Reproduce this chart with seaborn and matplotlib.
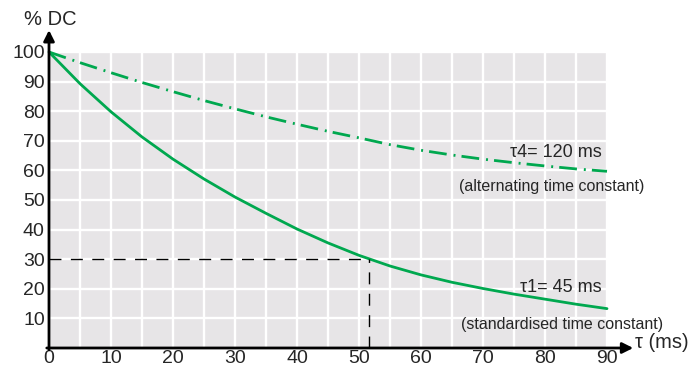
import pandas as pd
import numpy as np
import matplotlib.pyplot as plt
import seaborn as sns

# time axis (ms) and the two decay curves (% DC)
t_ms = [0, 5, 10, 15, 20, 25, 30, 35, 40, 45, 50, 55, 60, 65, 70, 75, 80, 85, 90]
tau1_dc = [100, 89.3, 79.8, 71.3, 63.8, 57.1, 51, 45.5, 40.2, 35.5, 31.3, 27.7, 24.7, 22.2, 20.1, 18.2, 16.5, 14.8, 13.3]
tau4_dc = [100, 96.4, 93, 89.7, 86.6, 83.6, 80.8, 78.1, 75.6, 73.2, 71, 68.7, 66.8, 65.2, 63.8, 62.6, 61.5, 60.5, 59.7]

# 30 % reference point
ref_dc = 30
ref_t = 51.6

x_ticks = [0, 10, 20, 30, 40, 50, 60, 70, 80, 90]
y_ticks = [10, 20, 30, 40, 50, 60, 70, 80, 90, 100]

df = pd.DataFrame({'t': t_ms, 'tau1': tau1_dc, 'tau4': tau4_dc})

sns.set_theme(style='white')
plt.rcParams['font.family'] = ['Liberation Sans', 'DejaVu Sans']

green = '#00a84f'
grey_bg = '#e7e5e7'

fig = plt.figure(figsize=(6.96, 3.67), dpi=100)
ax = fig.add_axes([49/696, 19/367, 558/696, 296/367])
ax.set_facecolor(grey_bg)

# grid: white, every 5 ms and every 10 %
ax.set_xticks(x_ticks)
ax.set_xticks(np.arange(5, 90, 10), minor=True)
ax.set_yticks(y_ticks)
ax.grid(which='both', color='white', linewidth=1.7)
ax.set_axisbelow(True)

# curves
sns.lineplot(data=df, x='t', y='tau1', ax=ax, color=green, linewidth=2.0)
sns.lineplot(data=df, x='t', y='tau4', ax=ax, color=green, linewidth=2.0,
             linestyle=(0, (6.4, 2.5, 0.7, 2.2)))
for ln in ax.lines:
    ln.set_clip_on(False)
    ln.set_solid_joinstyle('round')

# dashed reference lines at 30 %
ax.plot([0, ref_t], [ref_dc, ref_dc], color='black', lw=1.0, linestyle=(0, (8.6, 6.8)))
ax.plot([ref_t, ref_t], [0, ref_dc], color='black', lw=1.0, linestyle=(0, (8.6, 6.8)))

ax.set_xlim(0, 90)
ax.set_ylim(0, 100)
ax.set_xlabel('')
ax.set_ylabel('')
for s in ax.spines.values():
    s.set_visible(False)
ax.tick_params(axis='both', which='both', length=0, labelsize=14)
ax.tick_params(axis='x', pad=1.5)
ax.tick_params(axis='y', pad=3)

# axes with arrow heads
ax.annotate('', xy=(1.047, 0), xytext=(-0.004, 0), xycoords='axes fraction',
            arrowprops=dict(arrowstyle='-|>', lw=2.0, color='black', mutation_scale=16,
                            shrinkA=0, shrinkB=0), annotation_clip=False)
ax.annotate('', xy=(0, 1.074), xytext=(0, -0.006), xycoords='axes fraction',
            arrowprops=dict(arrowstyle='-|>', lw=2.0, color='black', mutation_scale=16,
                            shrinkA=0, shrinkB=0), annotation_clip=False)

ax.text(0.003, 1.111, '% DC', transform=ax.transAxes, ha='center', va='center', fontsize=14.5)
ax.text(1.050, 0.02, 'τ (ms)', transform=ax.transAxes, ha='left', va='center', fontsize=14.5)

# curve labels
ax.text(89.2, 65.9, 'τ4= 120 ms', ha='right', va='center', fontsize=13)
ax.text(81.0, 54.4, '(alternating time constant)', ha='center', va='center', fontsize=11.5, clip_on=False)
ax.text(89.2, 20.3, 'τ1= 45 ms', ha='right', va='center', fontsize=13)
ax.text(82.8, 8.1, '(standardised time constant)', ha='center', va='center', fontsize=11.5, clip_on=False)

plt.savefig('out.png', dpi=100)
